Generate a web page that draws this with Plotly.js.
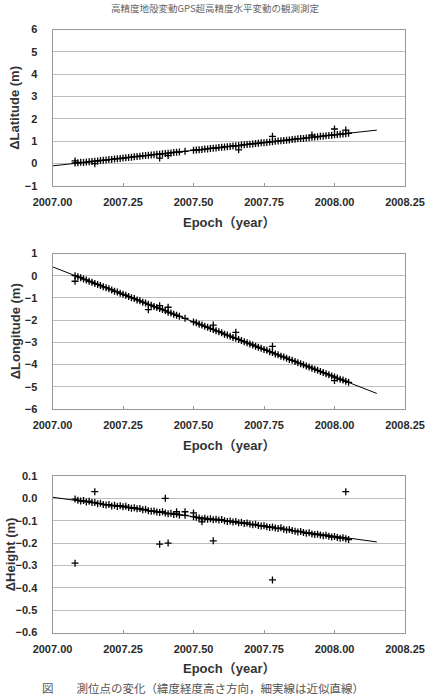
<!DOCTYPE html>
<html>
<head>
<meta charset="utf-8">
<script src="https://cdn.plot.ly/plotly-3.0.1.min.js"></script>
<style>html,body{margin:0;padding:0;background:#fff;}#chart{width:430px;height:696px;}</style>
</head>
<body>
<div id="chart"></div>
<script>
// Epochs (decimal year) of the regular daily-ish solutions
const epochs = [2007.08,2007.09,2007.10,2007.11,2007.12,2007.13,2007.14,2007.15,2007.16,2007.17,2007.18,2007.19,2007.20,2007.21,2007.22,2007.23,2007.24,2007.25,2007.26,2007.27,2007.28,2007.29,2007.30,2007.31,2007.32,2007.33,2007.34,2007.35,2007.36,2007.37,2007.38,2007.39,2007.40,2007.41,2007.42,2007.43,2007.44,2007.45,2007.47,2007.50,2007.51,2007.52,2007.53,2007.54,2007.55,2007.56,2007.57,2007.58,2007.59,2007.60,2007.61,2007.62,2007.63,2007.64,2007.65,2007.66,2007.67,2007.68,2007.69,2007.70,2007.71,2007.72,2007.73,2007.74,2007.75,2007.76,2007.77,2007.78,2007.79,2007.80,2007.81,2007.82,2007.83,2007.84,2007.85,2007.86,2007.87,2007.88,2007.89,2007.90,2007.91,2007.92,2007.93,2007.94,2007.95,2007.96,2007.97,2007.98,2007.99,2008.00,2008.01,2008.02,2008.03,2008.04,2008.05];

const latitude = [0.03,0.04,0.06,0.05,0.07,0.08,0.10,0.11,0.12,0.14,0.15,0.16,0.18,0.19,0.21,0.22,0.23,0.25,0.26,0.28,0.29,0.31,0.32,0.33,0.35,0.36,0.37,0.39,0.40,0.42,0.42,0.44,0.45,0.47,0.48,0.50,0.51,0.52,0.55,0.60,0.61,0.62,0.63,0.65,0.66,0.68,0.69,0.70,0.72,0.73,0.75,0.76,0.77,0.79,0.80,0.81,0.83,0.84,0.86,0.87,0.88,0.90,0.91,0.93,0.94,0.95,0.97,0.98,1.00,1.01,1.02,1.04,1.05,1.06,1.08,1.09,1.11,1.12,1.13,1.15,1.16,1.18,1.19,1.20,1.22,1.23,1.25,1.26,1.27,1.29,1.30,1.32,1.33,1.34,1.36];
const latOutEpoch = [2007.08,2007.15,2007.38,2007.41,2007.66,2007.78,2007.92,2008.00,2008.04];
const latOutValue = [0.12,0.00,0.25,0.36,0.62,1.22,1.28,1.55,1.50];
const latFitX = [2007.00,2008.15];
const latFitY = [-0.10,1.50];

const longitude = [0.00,-0.05,-0.09,-0.15,-0.19,-0.25,-0.29,-0.35,-0.39,-0.44,-0.50,-0.54,-0.59,-0.64,-0.70,-0.73,-0.79,-0.84,-0.88,-0.94,-0.99,-1.03,-1.09,-1.13,-1.19,-1.23,-1.29,-1.33,-1.39,-1.43,-1.48,-1.52,-1.57,-1.64,-1.68,-1.73,-1.78,-1.83,-1.92,-2.08,-2.12,-2.18,-2.22,-2.28,-2.32,-2.38,-2.42,-2.48,-2.52,-2.57,-2.63,-2.67,-2.72,-2.78,-2.82,-2.87,-2.92,-2.97,-3.02,-3.07,-3.12,-3.17,-3.22,-3.27,-3.32,-3.36,-3.42,-3.46,-3.52,-3.56,-3.62,-3.66,-3.71,-3.77,-3.81,-3.86,-3.92,-3.96,-4.01,-4.06,-4.11,-4.16,-4.21,-4.26,-4.31,-4.36,-4.41,-4.46,-4.51,-4.56,-4.61,-4.66,-4.70,-4.75,-4.80];
const lonOutEpoch = [2007.08,2007.34,2007.38,2007.41,2007.57,2007.65,2007.78,2008.00];
const lonOutValue = [-0.25,-1.53,-1.35,-1.42,-2.22,-2.55,-3.18,-4.72];
const lonFitX = [2007.00,2008.15];
const lonFitY = [0.40,-5.30];

const height = [-0.003,-0.008,-0.012,-0.010,-0.016,-0.013,-0.019,-0.018,-0.024,-0.022,-0.027,-0.030,-0.028,-0.034,-0.031,-0.036,-0.033,-0.038,-0.035,-0.041,-0.044,-0.042,-0.047,-0.045,-0.051,-0.049,-0.055,-0.058,-0.056,-0.061,-0.063,-0.060,-0.066,-0.069,-0.067,-0.072,-0.070,-0.074,-0.076,-0.082,-0.085,-0.088,-0.092,-0.089,-0.094,-0.091,-0.096,-0.093,-0.097,-0.095,-0.100,-0.103,-0.101,-0.106,-0.104,-0.109,-0.107,-0.112,-0.110,-0.115,-0.118,-0.116,-0.121,-0.124,-0.122,-0.127,-0.130,-0.128,-0.133,-0.135,-0.132,-0.138,-0.141,-0.139,-0.144,-0.147,-0.150,-0.148,-0.153,-0.156,-0.154,-0.159,-0.162,-0.160,-0.164,-0.167,-0.165,-0.170,-0.173,-0.171,-0.175,-0.178,-0.176,-0.181,-0.184];
const hgtOutEpoch = [2007.08,2007.15,2007.38,2007.40,2007.41,2007.44,2007.47,2007.50,2007.53,2007.57,2007.78,2008.04];
const hgtOutValue = [-0.29,0.03,-0.205,0.00,-0.20,-0.06,-0.06,-0.065,-0.105,-0.19,-0.365,0.03];
const hgtFitX = [2007.00,2008.15];
const hgtFitY = [0.005,-0.195];

const xTickVals = [2007.00,2007.25,2007.50,2007.75,2008.00,2008.25];
const xTickText = ['2007.00','2007.25','2007.50','2007.75','2008.00','2008.25'];
const latTickVals = [-1,0,1,2,3,4,5,6];
const latTickText = ['\u22121','0','1','2','3','4','5','6'];
const lonTickVals = [-6,-5,-4,-3,-2,-1,0,1];
const lonTickText = ['\u22126','\u22125','\u22124','\u22123','\u22122','\u22121','0','1'];
const hgtTickVals = [-0.6,-0.5,-0.4,-0.3,-0.2,-0.1,0.0,0.1];
const hgtTickText = ['\u22120.6','\u22120.5','\u22120.4','\u22120.3','\u22120.2','\u22120.1','0.0','0.1'];
const yTitles = ['\u0394Latitude (m)','\u0394Longitude (m)','\u0394Height (m)'];
const xTitle = 'Epoch\uFF08year\uFF09';
const topCaption = '高精度地殻変動GPS超高精度水平変動の観測測定';
const bottomCaption = '図\u3000\u3000測位点の変化（緯度経度高さ方向，細実線は近似直線）';

const H = 696, W = 430;
const FONT = 'Liberation Sans, Arial, Noto Sans CJK JP, sans-serif';
const CJK = 'Noto Sans CJK JP, sans-serif';
const markerStyle = {symbol:'cross-thin-open', size:5, color:'#000', line:{color:'#000', width:1.3}};
const lineStyle = {color:'#000', width:1};

function pts(suffix, x1, y1, x2, y2, fx, fy){
  return [
    {x: x1.concat(x2), y: y1.concat(y2), xaxis:'x'+suffix, yaxis:'y'+suffix, type:'scatter', mode:'markers', marker: markerStyle, hoverinfo:'x+y'},
    {x: fx, y: fy, xaxis:'x'+suffix, yaxis:'y'+suffix, type:'scatter', mode:'lines', line: lineStyle, hoverinfo:'skip'}
  ];
}
const data = [].concat(
  pts('', epochs, latitude, latOutEpoch, latOutValue, latFitX, latFitY),
  pts('2', epochs, longitude, lonOutEpoch, lonOutValue, lonFitX, lonFitY),
  pts('3', epochs, height, hgtOutEpoch, hgtOutValue, hgtFitX, hgtFitY)
);

const px = v => 1 - v / H;
const xDom = [52.5 / W, 405 / W];
const panels = [[29.5, 186], [253.5, 409], [476, 632.5]];
const tickFont = {family:FONT, size:11, color:'#2a2a2a', weight:'bold'};

function xaxis(anchor){
  return {domain: xDom, anchor: anchor, range:[2007.00, 2008.25], tickvals: xTickVals, ticktext: xTickText,
    ticks:'inside', ticklen:3, tickcolor:'#999', showgrid:false, zeroline:false,
    showline:true, linecolor:'#999', linewidth:1, mirror:true, ticklabelstandoff:6,
    tickfont: tickFont, fixedrange:true};
}
function yaxis(anchor, dom, range, tv, tt){
  return {domain: dom, anchor: anchor, range: range, tickvals: tv, ticktext: tt,
    ticks:'', showgrid:true, gridcolor:'#bdbdbd', gridwidth:1, zeroline:false,
    showline:true, linecolor:'#999', linewidth:1, mirror:true, ticklabelstandoff:12,
    tickfont: tickFont, fixedrange:true};
}
const doms = panels.map(p => [px(p[1]), px(p[0])]);

const annotations = [];
const yTitleX = [15, 15, 10];
panels.forEach((p, i) => {
  annotations.push({xref:'paper', yref:'paper', x: yTitleX[i] / W, y: px((p[0] + p[1]) / 2), text: yTitles[i], textangle:-90,
    showarrow:false, xanchor:'center', yanchor:'middle', font:{family:FONT, size:13, color:'#333', weight:'bold'}});
  annotations.push({xref:'paper', yref:'paper', x: 228.5 / W, y: px(p[1] + 36), text: xTitle,
    showarrow:false, xanchor:'center', yanchor:'middle', font:{family:FONT, size:13, color:'#333', weight:'bold'}});
});
annotations.push({xref:'paper', yref:'paper', x: 215 / W, y: px(8), text: topCaption, showarrow:false,
  xanchor:'center', yanchor:'middle', font:{family:CJK, size:9.5, color:'#666'}});
annotations.push({xref:'paper', yref:'paper', x: 40 / W, y: px(688), text: bottomCaption, showarrow:false,
  xanchor:'left', yanchor:'middle', font:{family:CJK, size:11.5, color:'#555'}});

const layout = {
  width: W, height: H, margin:{l:0, r:0, t:0, b:0, pad:0}, showlegend:false,
  paper_bgcolor:'#fff', plot_bgcolor:'#fff',
  xaxis: xaxis('y'), yaxis: yaxis('x', doms[0], [-1, 6], latTickVals, latTickText),
  xaxis2: xaxis('y2'), yaxis2: yaxis('x2', doms[1], [-6, 1], lonTickVals, lonTickText),
  xaxis3: xaxis('y3'), yaxis3: yaxis('x3', doms[2], [-0.6, 0.1], hgtTickVals, hgtTickText),
  annotations: annotations
};
Plotly.newPlot('chart', data, layout, {displayModeBar:false, staticPlot:true});
</script>
</body>
</html>
